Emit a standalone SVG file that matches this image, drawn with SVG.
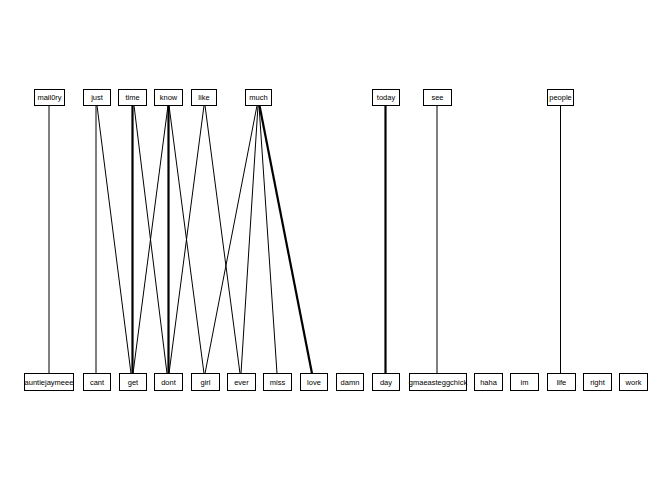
<svg xmlns="http://www.w3.org/2000/svg" width="672" height="480" viewBox="0 0 672 480">
<style>
.box{fill:#fff;stroke:#000;stroke-width:1}
.lbl{font-family:"Liberation Sans",Arial,sans-serif;font-size:7.5px;fill:#000;text-anchor:middle;dominant-baseline:central}
.e{stroke:#000;stroke-width:1;fill:none}
.t{stroke:#000;stroke-width:2.2;fill:none}
</style>
<rect width="672" height="480" fill="#fff"/>
<g id="edges">
<line class="e" x1="49" y1="105.5" x2="49" y2="373.5"/>
<line class="e" x1="96" y1="105.5" x2="96" y2="373.5"/>
<line class="e" x1="97" y1="105.5" x2="131" y2="373.5"/>
<line class="t" x1="132.5" y1="105.5" x2="132.5" y2="373.5"/>
<line class="e" x1="134" y1="105.5" x2="167" y2="373.5"/>
<line class="e" x1="168" y1="105.5" x2="133" y2="373.5"/>
<line class="t" x1="168.5" y1="105.5" x2="168.5" y2="373.5"/>
<line class="e" x1="169" y1="105.5" x2="204" y2="373.5"/>
<line class="e" x1="204" y1="105.5" x2="169" y2="373.5"/>
<line class="e" x1="205" y1="105.5" x2="240" y2="373.5"/>
<line class="e" x1="257" y1="105.5" x2="205" y2="373.5"/>
<line class="e" x1="258" y1="105.5" x2="241" y2="373.5"/>
<line class="e" x1="259" y1="105.5" x2="277" y2="373.5"/>
<line class="t" x1="259.5" y1="105.5" x2="312" y2="373.5"/>
<line class="t" x1="385.5" y1="105.5" x2="385.5" y2="373.5"/>
<line class="e" x1="437" y1="105.5" x2="437" y2="373.5"/>
<line class="e" x1="560.5" y1="105.5" x2="560.5" y2="373.5"/>
</g>
<g id="n-mail0ry"><rect class="box" x="34.5" y="89.5" width="30" height="16"/><text class="lbl" x="49.5" y="97.5">mail0ry</text></g>
<g id="n-just"><rect class="box" x="83.5" y="89.5" width="27" height="16"/><text class="lbl" x="97" y="97.5">just</text></g>
<g id="n-time"><rect class="box" x="118.5" y="89.5" width="28" height="16"/><text class="lbl" x="132.5" y="97.5">time</text></g>
<g id="n-know"><rect class="box" x="154.5" y="89.5" width="28" height="16"/><text class="lbl" x="168.5" y="97.5">know</text></g>
<g id="n-like"><rect class="box" x="191.5" y="89.5" width="25" height="16"/><text class="lbl" x="204" y="97.5">like</text></g>
<g id="n-much"><rect class="box" x="245.5" y="89.5" width="26" height="16"/><text class="lbl" x="258.5" y="97.5">much</text></g>
<g id="n-today"><rect class="box" x="372.5" y="89.5" width="27" height="16"/><text class="lbl" x="386" y="97.5">today</text></g>
<g id="n-see"><rect class="box" x="423.5" y="89.5" width="28" height="16"/><text class="lbl" x="437.5" y="97.5">see</text></g>
<g id="n-people"><rect class="box" x="547.5" y="89.5" width="26" height="16"/><text class="lbl" x="560.5" y="97.5">people</text></g>
<g id="n-auntiejaymeee"><rect class="box" x="24.5" y="373.5" width="49" height="17"/><text class="lbl" x="49" y="382">auntiejaymeee</text></g>
<g id="n-cant"><rect class="box" x="83.5" y="373.5" width="27" height="17"/><text class="lbl" x="97" y="382">cant</text></g>
<g id="n-get"><rect class="box" x="119.5" y="373.5" width="27" height="17"/><text class="lbl" x="133" y="382">get</text></g>
<g id="n-dont"><rect class="box" x="154.5" y="373.5" width="28" height="17"/><text class="lbl" x="168.5" y="382">dont</text></g>
<g id="n-girl"><rect class="box" x="191.5" y="373.5" width="28" height="17"/><text class="lbl" x="205.5" y="382">girl</text></g>
<g id="n-ever"><rect class="box" x="227.5" y="373.5" width="28" height="17"/><text class="lbl" x="241.5" y="382">ever</text></g>
<g id="n-miss"><rect class="box" x="263.5" y="373.5" width="28" height="17"/><text class="lbl" x="277.5" y="382">miss</text></g>
<g id="n-love"><rect class="box" x="300.5" y="373.5" width="27" height="17"/><text class="lbl" x="314" y="382">love</text></g>
<g id="n-damn"><rect class="box" x="336.5" y="373.5" width="27" height="17"/><text class="lbl" x="350" y="382">damn</text></g>
<g id="n-day"><rect class="box" x="372.5" y="373.5" width="27" height="17"/><text class="lbl" x="386" y="382">day</text></g>
<g id="n-gmaeasteggchick"><rect class="box" x="409.5" y="373.5" width="57" height="17"/><text class="lbl" x="438" y="382">gmaeasteggchick</text></g>
<g id="n-haha"><rect class="box" x="474.5" y="373.5" width="28" height="17"/><text class="lbl" x="488.5" y="382">haha</text></g>
<g id="n-im"><rect class="box" x="510.5" y="373.5" width="28" height="17"/><text class="lbl" x="524.5" y="382">im</text></g>
<g id="n-life"><rect class="box" x="547.5" y="373.5" width="28" height="17"/><text class="lbl" x="561.5" y="382">life</text></g>
<g id="n-right"><rect class="box" x="583.5" y="373.5" width="28" height="17"/><text class="lbl" x="597.5" y="382">right</text></g>
<g id="n-work"><rect class="box" x="619.5" y="373.5" width="28" height="17"/><text class="lbl" x="633.5" y="382">work</text></g>
</svg>
